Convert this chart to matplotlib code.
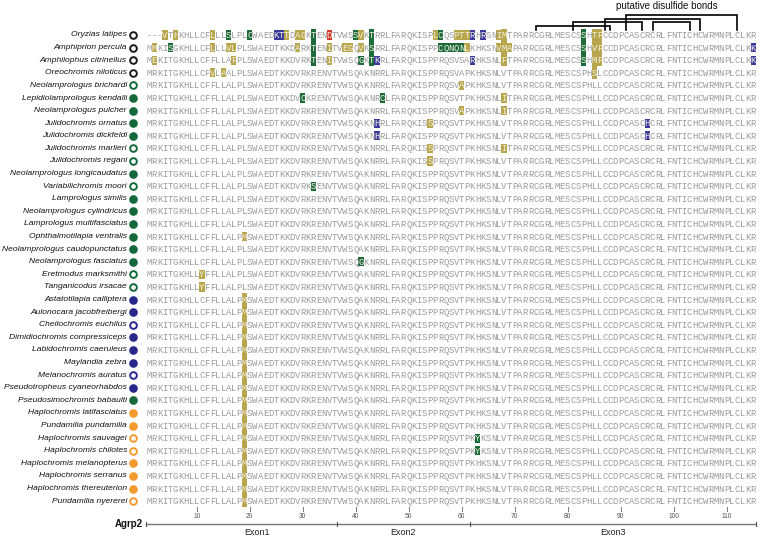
import matplotlib.pyplot as plt
from matplotlib.patches import Rectangle

# consensus Agrp2 protein, 115 residues
CONSENSUS = ("MRKITGKHLLCFFLLALPLSWAEDTKKDVRKRENVTVWSQAKNR"
             "RLFARQKISPPRQSVTPKHKSNLVTPARRCGRLMESCSPHLLCCDPCASCRCRLFNTICHCWRMNPLCLKR")

SPECIES = [
    "Oryzias latipes", "Amphiprion percula", "Amphilophus citrinellus", "Oreochromis niloticus",
    "Neolamprologus brichardi", "Lepidiolamprologus kendalli", "Neolamprologus pulcher",
    "Julidochromis ornatus", "Julidochromis dickfeldi", "Julidochromis marlieri", "Julidochromis regani",
    "Neolamprologus longicaudatus", "Variabilichromis moori", "Lamprologus similis",
    "Neolamprologus cylindricus", "Lamprologus multifasciatus", "Ophthalmotilapia ventralis",
    "Neolamprologus caudopunctatus", "Neolamprologus fasciatus", "Eretmodus marksmithi",
    "Tanganicodus irsacae", "Astatotilapia calliptera", "Aulonocara jacobfreibergi",
    "Cheilochromis euchilus", "Dimidiochromis compressiceps", "Labidochromis caeruleus",
    "Maylandia zebra", "Melanochromis auratus", "Pseudotropheus cyaneorhabdos",
    "Pseudosimochromis babaulti", "Haplochromis latifasciatus", "Pundamilia pundamilia",
    "Haplochromis sauvagei", "Haplochromis chilotes", "Haplochromis melanopterus",
    "Haplochromis serranus", "Haplochromis thereuterion", "Pundamilia nyererei",
]
GROUP = list("kkkk" + "ggggggggggggggggg" + "bbbbbbbb" + "g" + "oooooooo")
FILLED = [0, 0, 0, 0, 0, 1, 1, 1, 1, 0, 0, 1, 0, 1, 1, 1, 1, 1, 1, 0, 0,
          1, 1, 0, 1, 1, 1, 0, 1, 1, 1, 1, 0, 0, 1, 1, 1, 0]

# per species: (position, residue, highlight) ; highlight None = changed but not shaded
MALAWI_19 = [(19, "M", "y")]
CHANGES = [
    [(1, "-", None), (2, "-", None), (3, "-", None), (4, "V", "y"), (6, "H", "y"), (13, "L", "y"),
     (16, "S", "g"), (20, "C", "g"), (25, "K", "b"), (26, "T", "b"), (27, "T", "y"), (29, "A", "y"),
     (30, "G", "y"), (32, "T", "g"), (35, "D", "r"), (40, "S", "g"), (41, "V", "y"), (43, "T", "g"),
     (55, "L", "y"), (56, "C", "g"), (59, "P", "y"), (60, "T", "y"), (61, "T", "y"), (62, "R", "b"),
     (64, "R", "b"), (67, "I", "y"), (68, "M", "y"), (83, "S", "g"), (85, "T", "y"), (86, "P", "y")],
    [(2, "M", "y"), (5, "S", "g"), (13, "L", "y"), (16, "V", "y"), (17, "L", "y"), (29, "A", "y"),
     (32, "T", "g"), (35, "I", "y"), (38, "E", "y"), (39, "G", "y"), (41, "V", "y"), (43, "S", "g"),
     (56, "C", "g"), (57, "Q", "g"), (58, "N", "g"), (59, "Q", "g"), (60, "N", "g"), (61, "L", "y"),
     (67, "V", "y"), (68, "M", "y"), (69, "A", "y"), (83, "S", "g"), (85, "V", "y"), (86, "F", "y"),
     (115, "K", "b")],
    [(2, "E", "y"), (17, "F", "y"), (32, "T", "g"), (35, "I", "y"), (41, "G", "g"), (43, "T", "g"),
     (44, "K", "b"), (60, "S", None), (61, "A", None), (62, "R", "b"), (68, "F", "y"), (83, "S", "g"),
     (85, "M", "y"), (86, "F", "y"), (115, "K", "b")],
    [(13, "V", "y"), (15, "A", "y"), (60, "A", None), (85, "S", "y")],
    [(60, "A", "y")],
    [(30, "C", "g"), (45, "C", "g"), (68, "I", "y")],
    [(60, "A", "y"), (68, "I", "y")],
    [(44, "H", "b"), (54, "S", "y"), (95, "H", "b")],
    [(44, "H", "b"), (95, "H", "b")],
    [(54, "S", "y"), (68, "I", "y")],
    [(54, "S", "y")],
    [],
    [(32, "S", "g")],
    [], [], [],
    [(19, "M", "y")],
    [],
    [(41, "G", "g")],
    [(11, "Y", "y")],
    [(11, "Y", "y")],
    MALAWI_19, MALAWI_19, MALAWI_19, MALAWI_19, MALAWI_19, MALAWI_19, MALAWI_19, MALAWI_19,
    MALAWI_19, MALAWI_19, MALAWI_19,
    MALAWI_19 + [(63, "Y", "g")],
    MALAWI_19 + [(63, "Y", "g")],
    MALAWI_19, MALAWI_19, MALAWI_19, MALAWI_19,
]

DISULFIDE_PAIRS = [(74, 88), (81, 94), (87, 105), (91, 112), (96, 103)]
BOND_LEVEL = [1, 2, 3, 4, 2]
TICKS = [10, 20, 30, 40, 50, 60, 70, 80, 90, 100, 110]
EXON_BOUNDS = [0.5, 36.5, 61.5, 115.5]
EXONS = ["Exon1", "Exon2", "Exon3"]
EXON_LABEL_POS = [21.3, 49.0, 88.5]

SHADE = {"y": "#b8a64c", "g": "#1d6a3b", "b": "#3a3a9c", "r": "#d8352a"}
GROUP_COLOR = {"k": "#1a1a1a", "g": "#14683a", "b": "#28288c", "o": "#f29a2e"}

# layout in pixels of the 760x538 canvas
W, H = 760, 538
FIRST_PX, RES_PX = 149.0, 5.3
ROW0_PX, ROW_PX = 35.0, 12.6


def ypx(px):
    return 1 + (px - ROW0_PX) / ROW_PX


def xpx(px):
    return 1 + (px - FIRST_PX) / RES_PX


fig = plt.figure(figsize=(W / 100, H / 100), dpi=100)
ax = fig.add_axes([0, 0, 1, 1])
ax.set_xlim(xpx(0), xpx(W))
ax.set_ylim(ypx(H), ypx(0))
ax.axis("off")

n_rows = len(SPECIES)
seqs, shades = [], []
for changes in CHANGES:
    s = list(CONSENSUS)
    sh = [None] * len(CONSENSUS)
    for pos, aa, code in changes:
        s[pos - 1] = aa
        sh[pos - 1] = code
    seqs.append(s)
    shades.append(sh)

# shaded boxes; long vertical runs are drawn as one band
for col in range(len(CONSENSUS)):
    r = 0
    while r < n_rows:
        code = shades[r][col]
        if code is None:
            r += 1
            continue
        end = r
        while end + 1 < n_rows and shades[end + 1][col] == code:
            end += 1
        if end - r + 1 >= 3:
            ax.add_patch(Rectangle((col + 0.5, r + 0.5), 1, end - r + 1,
                                   color=SHADE[code], lw=0))
        else:
            for k in range(r, end + 1):
                ax.add_patch(Rectangle((col + 0.5, k + 1 - 0.36), 1, 0.72,
                                       color=SHADE[code], lw=0))
        r = end + 1

for i, name in enumerate(SPECIES):
    y = i + 1
    ax.text(xpx(127), y, name, ha="right", va="center", fontsize=6.1,
            style="italic", family="Liberation Sans", color="#111111")
    c = GROUP_COLOR[GROUP[i]]
    ax.plot(xpx(133), y, "o", ms=4.8, mew=1.4, mec=c,
            mfc=c if FILLED[i] else "white", clip_on=False)
    for j, aa in enumerate(seqs[i]):
        col = "#f4f1e0" if shades[i][j] else "#9a9a9a"
        ax.text(j + 1, y + 0.04, aa, ha="center", va="center", fontsize=6.4,
                family="Liberation Mono", color=col)

# disulfide brackets
base = ypx(30)
level_px = {1: 26.0, 2: 22.5, 3: 19.0, 4: 15.5}
for (a, b), lev in zip(DISULFIDE_PAIRS, BOND_LEVEL):
    top = ypx(level_px[lev])
    ax.plot([a, a, b, b], [base, top, top, base], color="black", lw=1.2,
            solid_joinstyle="miter")
ax.text(xpx(667), ypx(6), "putative disulfide bonds", ha="center", va="center",
        fontsize=7, family="Liberation Sans", color="#111111")

# ruler
for t in TICKS:
    ax.plot([t, t], [ypx(507), ypx(511)], color="#777777", lw=0.7)
    ax.text(t, ypx(516.5), str(t), ha="center", va="center", fontsize=4.8,
            family="Liberation Sans", color="#555555")
ax.plot([EXON_BOUNDS[0], EXON_BOUNDS[-1]], [ypx(524), ypx(524)], color="#777777", lw=1)
for b in EXON_BOUNDS:
    ax.plot([b, b], [ypx(521.5), ypx(526.5)], color="#555555", lw=0.8)
for label, pos in zip(EXONS, EXON_LABEL_POS):
    ax.text(pos, ypx(532.5), label, ha="center", va="center", fontsize=6.5,
            family="Liberation Sans", color="#222222")
ax.text(xpx(143), ypx(524), "Agrp2", ha="right", va="center", fontsize=7,
        weight="bold", family="Liberation Sans", color="#111111")

fig.savefig("out.png", dpi=100)
